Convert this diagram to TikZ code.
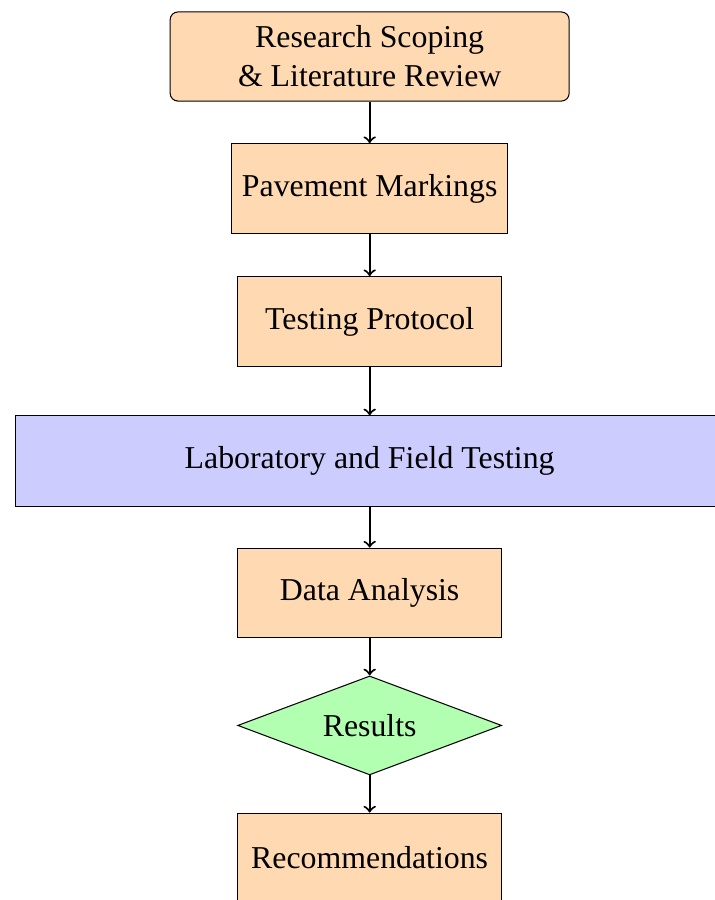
\documentclass[tikz,border=0pt]{standalone}
\usepackage{fontspec}
\setmainfont{Liberation Serif}
\usetikzlibrary{arrows,shapes,backgrounds}

\begin{document}
\begin{tikzpicture}[node distance=50.8pt, font=\fontsize{12.25}{15}\selectfont]
        \tikzstyle{startstep}=[rectangle, rounded corners=3pt, draw=black, fill=orange!30, minimum width=153.6pt, minimum height=34.3pt, align=center]
        \tikzstyle{process}=[rectangle, draw=black, fill=orange!30, minimum width=101.6pt, minimum height=34.5pt, inner sep=4pt]
        \tikzstyle{testing}=[rectangle, draw=black, fill=blue!20, minimum width=273pt, minimum height=34.7pt]
        \tikzstyle{decision}=[diamond, aspect=2.67, draw=black, fill=green!30, minimum width=101.6pt, minimum height=38.1pt, inner sep=1pt]
        \tikzstyle{flow}=[->, thick]
        \useasboundingbox (-142.3pt,21.75pt) rectangle (132.6pt,-324.7pt);
        \begin{scope}
          \node [startstep] (scope) {Research Scoping\\\& Literature Review};
          \node [process] (mark) [below of=scope] {Pavement Markings};
          \node [process] (proto) [below of=mark, node distance=51.2pt] {Testing Protocol};
          \node [testing] (test) [below of=proto, node distance=53.7pt] {Laboratory and Field Testing};
          \node [process] (data) [below of=test] {Data Analysis};
          \node [decision] (res) [below of=data, node distance=51pt] {Results};
          \node [process] (rec) [below of=res, node distance=51pt] {Recommendations};
        \end{scope}
        \draw [flow] (scope) -- (mark);
        \draw [flow] (mark) -- (proto);
        \draw [flow] (proto) -- (test);
        \draw [flow] (test) -- (data);
        \draw [flow] (data) -- (res);
        \draw [flow] (res) -- (rec);
      \end{tikzpicture}
\end{document}
